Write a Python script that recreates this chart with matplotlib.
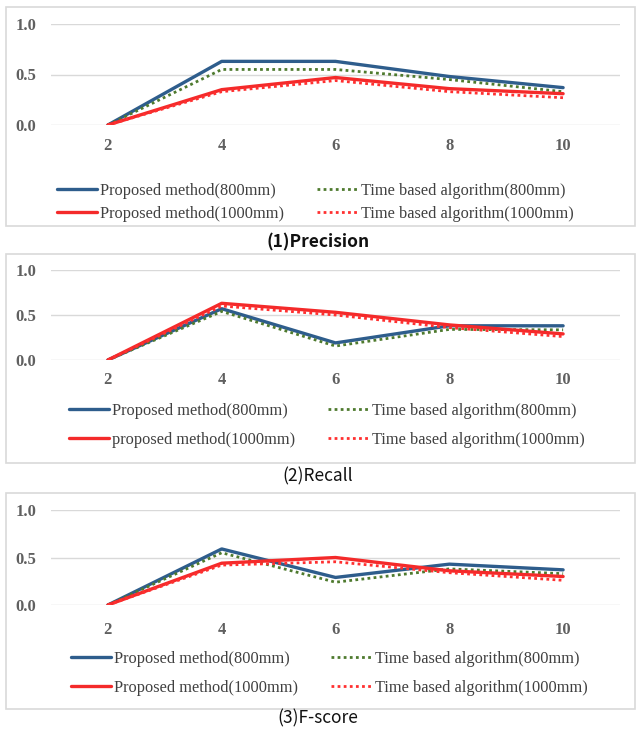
import matplotlib.pyplot as plt
from matplotlib.patches import Rectangle

W, H = 636, 734

x_labels = ["2", "4", "6", "8", "10"]

prec_prop_800 = [0.0, 0.63, 0.63, 0.48, 0.37]
prec_time_800 = [0.0, 0.55, 0.55, 0.45, 0.33]
prec_prop_1000 = [0.0, 0.35, 0.47, 0.36, 0.31]
prec_time_1000 = [0.0, 0.33, 0.44, 0.33, 0.27]

rec_prop_800 = [0.0, 0.57, 0.19, 0.38, 0.38]
rec_time_800 = [0.0, 0.54, 0.155, 0.34, 0.335]
rec_prop_1000 = [0.0, 0.63, 0.53, 0.39, 0.29]
rec_time_1000 = [0.0, 0.60, 0.50, 0.36, 0.26]

f_prop_800 = [0.0, 0.59, 0.29, 0.43, 0.37]
f_time_800 = [0.0, 0.55, 0.24, 0.38, 0.33]
f_prop_1000 = [0.0, 0.44, 0.50, 0.36, 0.30]
f_time_1000 = [0.0, 0.42, 0.455, 0.34, 0.26]

y_ticks = [0.0, 0.5, 1.0]

BLUE = "#2E5D8C"
RED = "#F42A2A"
GREEN = "#4E7A2E"
RED_DOT = "#FF3030"
SERIF = "Liberation Serif"

fig = plt.figure(figsize=(W / 100, H / 100), dpi=100)


def fbox(x0, y0, x1, y1):
    # pixel box (top-left origin) -> figure fraction [l, b, w, h]
    return [x0 / W, 1 - y1 / H, (x1 - x0) / W, (y1 - y0) / H]


def panel(frame, axbox, series, labels, title, title_y, title_w,
          leg_anchor, leg_spacing, tick_pad):
    fig.add_artist(Rectangle((frame[0] / W, 1 - frame[3] / H),
                             (frame[2] - frame[0]) / W, (frame[3] - frame[1]) / H,
                             transform=fig.transFigure, fill=False,
                             edgecolor="#D9D9D9", linewidth=1.2))
    ax = fig.add_axes(fbox(*axbox))
    xs = range(len(x_labels))
    p800, t800, p1000, t1000 = series
    l1, = ax.plot(xs, p800, color=BLUE, lw=2.4, solid_capstyle="round")
    l3, = ax.plot(xs, t800, color=GREEN, lw=2.0, ls=(0, (1, 1.2)))
    l2, = ax.plot(xs, p1000, color=RED, lw=2.4, solid_capstyle="round")
    l4, = ax.plot(xs, t1000, color=RED_DOT, lw=2.0, ls=(0, (1, 1.2)))

    ax.set_xlim(-0.5, len(x_labels) - 0.5)
    ax.set_ylim(0, 1.0)
    ax.set_yticks(y_ticks)
    ax.set_yticklabels([f"{v:.1f}" for v in y_ticks], fontfamily=SERIF,
                       fontsize=12, fontweight="bold", color="#606060")
    ax.set_xticks(list(xs))
    ax.set_xticklabels(x_labels, fontfamily=SERIF, fontsize=12,
                       fontweight="bold", color="#606060")
    ax.tick_params(length=0)
    ax.tick_params(axis="y", pad=10.5)
    ax.tick_params(axis="x", pad=tick_pad)
    ax.grid(axis="y", color="#D9D9D9", lw=1.0)
    ax.set_axisbelow(True)
    for s in ax.spines.values():
        s.set_visible(False)
    ax.patch.set_alpha(0)

    leg = fig.legend([l1, l2, l3, l4], labels, ncol=2, loc="upper left",
                     bbox_to_anchor=(leg_anchor[0] / W, 1 - leg_anchor[1] / H),
                     frameon=False, prop={"family": SERIF, "size": 11.8},
                     handlelength=2.45, handletextpad=0.2, columnspacing=2.0,
                     labelspacing=leg_spacing, borderaxespad=0, borderpad=0)
    for t in leg.get_texts():
        t.set_color("#404040")

    fig.text(0.5, 1 - title_y / H, title, ha="center", va="center",
             fontsize=12.5, fontweight=title_w,
             family=["Noto Sans CJK JP", "DejaVu Sans"], color="#111111")


panel((6, 7, 635, 226), (51, 24, 620, 125),
      (prec_prop_800, prec_time_800, prec_prop_1000, prec_time_1000),
      ["Proposed method(800mm)", "Proposed method(1000mm)",
       "Time based algorithm(800mm)", "Time based algorithm(1000mm)"],
      "(1)Precision", 242, "bold", (57, 183), 0.4, 9)

panel((6, 254, 635, 463), (51, 270, 620, 360),
      (rec_prop_800, rec_time_800, rec_prop_1000, rec_time_1000),
      ["Proposed method(800mm)", "proposed method(1000mm)",
       "Time based algorithm(800mm)", "Time based algorithm(1000mm)"],
      "(2)Recall", 476, "normal", (69, 403), 0.8, 9)

panel((6, 493, 635, 709), (51, 510, 620, 605),
      (f_prop_800, f_time_800, f_prop_1000, f_time_1000),
      ["Proposed method(800mm)", "Proposed method(1000mm)",
       "Time based algorithm(800mm)", "Time based algorithm(1000mm)"],
      "(3)F-score", 718, "normal", (71, 651), 0.8, 12)

fig.savefig("out.png", dpi=100)
